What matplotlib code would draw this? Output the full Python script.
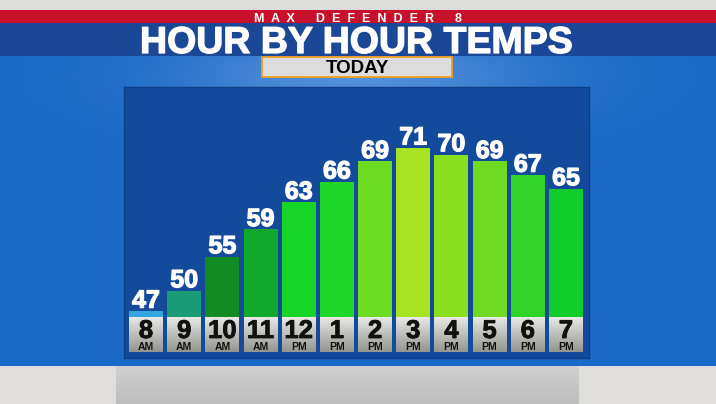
import numpy as np
import matplotlib
matplotlib.use("Agg")
import matplotlib.pyplot as plt
from matplotlib.patches import Rectangle
from matplotlib.colors import to_rgb
import matplotlib.patheffects as pe

plt.rcParams['font.family'] = ['Liberation Sans', 'DejaVu Sans']

# ---- data ----
hours = ["8", "9", "10", "11", "12", "1", "2", "3", "4", "5", "6", "7"]
periods = ["AM", "AM", "AM", "AM", "PM", "PM", "PM", "PM", "PM", "PM", "PM", "PM"]
temps = [47, 50, 55, 59, 63, 66, 69, 71, 70, 69, 67, 65]
bar_colors = ["#34a6e0", "#1a9c78", "#118a24", "#12a82a", "#18d628", "#1ed82a",
              "#6cdc22", "#a6e422", "#88e01e", "#70da22", "#30d426", "#12cc2c"]
title = "HOUR BY HOUR TEMPS"
brand = "M  A  X      D  E  F  E  N  D  E  R      8"
subtitle = "TODAY"

W, H = 716, 404
fig = plt.figure(figsize=(W / 100, H / 100), dpi=100)

# ---- background (pixel coordinates) ----
bg = fig.add_axes([0, 0, 1, 1])
bg.set_xlim(0, W)
bg.set_ylim(H, 0)
bg.axis('off')

yy, xx = np.mgrid[0:H, 0:W]
base_blue = np.array(to_rgb("#1c6ac8"))
glow = np.exp(-(((xx - 358) / 170.0) ** 2 + ((yy - 75) / 45.0) ** 2)) * 0.30
img = base_blue[None, None, :] * (1 - glow[..., None]) + np.array([0.85, 0.92, 1.0])[None, None, :] * glow[..., None]
bg.imshow(img, extent=(0, W, H, 0), aspect='auto', zorder=0)

bg.add_patch(Rectangle((0, 0), W, 10, facecolor="#dcdcda", edgecolor='none', zorder=1))
bg.add_patch(Rectangle((0, 10), W, 13, facecolor="#c8102a", edgecolor='none', zorder=1))
bg.add_patch(Rectangle((0, 23), W, 33, facecolor="#1a4896", edgecolor='none', zorder=1))

# bottom gray region
bg.add_patch(Rectangle((0, 366), W, H - 366, facecolor="#e0dedb", edgecolor='none', zorder=1))
grad = np.linspace(0, 1, 40)[:, None, None]
gray_img = np.array(to_rgb("#d0d0d0"))[None, None, :] * (1 - grad) + np.array(to_rgb("#bdbdbd"))[None, None, :] * grad
bg.imshow(gray_img, extent=(116, 579, H, 366), aspect='auto', zorder=2)
bg.set_xlim(0, W)
bg.set_ylim(H, 0)

heavy_w = [pe.withStroke(linewidth=0.9, foreground='white')]
heavy_k = [pe.withStroke(linewidth=0.6, foreground='#111111')]

bg.text(358, 22, brand, ha='center', va='baseline', color='white',
        fontsize=9, fontweight='bold', zorder=3)
bg.text(356, 53, title, ha='center', va='baseline', color='white',
        fontsize=27, fontweight='bold', zorder=3, path_effects=heavy_w)
bg.add_patch(Rectangle((262, 57), 190, 20, facecolor="#dcdcdc", edgecolor="#f0a020",
                       linewidth=1.3, zorder=3))
bg.text(357, 73, subtitle, ha='center', va='baseline', color='black',
        fontsize=13.5, fontweight='bold', zorder=4)

# ---- chart panel ----
px_left, px_right, px_top, px_bottom = 124, 589, 87, 358
ax = fig.add_axes([px_left / W, (H - px_bottom) / H,
                   (px_right - px_left) / W, (px_bottom - px_top) / H])
ax.set_facecolor("#134a9c")
for s in ax.spines.values():
    s.set_color("#0f3e86")
    s.set_linewidth(1.0)
ax.set_xticks([])
ax.set_yticks([])

pitch = 38.18          # pixels per category
deg = 6.8              # pixels per degree
base_px = 317
first_center = 146
base = 47 - (base_px - 311) / deg

x = np.arange(len(temps))
xlim = ((px_left - first_center) / pitch, (px_right - first_center) / pitch)
ylim = (base - (px_bottom - base_px) / deg, base + (base_px - px_top) / deg)

bw = 34 / pitch
vals = np.array(temps, dtype=float)
ax.bar(x, vals - base, bottom=base, width=bw, color=bar_colors, edgecolor='none', zorder=2)

box_bottom = base - 35 / deg
g = np.linspace(0, 1, 60)[:, None, None]
box_img = np.array(to_rgb("#e8e8e4"))[None, None, :] * (1 - g) + np.array(to_rgb("#95958f"))[None, None, :] * g
for i in x:
    ax.imshow(box_img, extent=(i - bw / 2, i + bw / 2, box_bottom, base), aspect='auto', zorder=2)
    ax.text(i, base - 21 / deg, hours[i], ha='center', va='baseline', color='#111111',
            fontsize=18.5, fontweight='bold', zorder=3, path_effects=heavy_k)
    ax.text(i, base - 33.5 / deg, periods[i], ha='center', va='baseline', color='#111111',
            fontsize=7.5, fontweight='bold', zorder=3)
    ax.annotate(str(temps[i]), (i, temps[i]), xytext=(0, 2.4), textcoords='offset points',
                ha='center', va='baseline', color='white', fontsize=18, fontweight='bold',
                zorder=3, path_effects=heavy_w)

ax.set_xlim(*xlim)
ax.set_ylim(*ylim)

fig.savefig("out.png", dpi=100)
